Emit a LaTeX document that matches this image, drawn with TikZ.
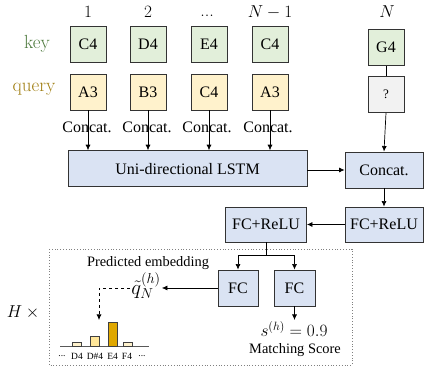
\documentclass[tikz,border=0pt]{standalone}
\usepackage[no-math]{fontspec}
\setmainfont{Liberation Serif}
\usetikzlibrary{arrows.meta}
\definecolor{keyfill}{HTML}{E2EFDA}
\definecolor{qfill}{HTML}{FFF2CC}
\definecolor{unkfill}{HTML}{F2F2F2}
\definecolor{bluefill}{HTML}{DAE3F3}
\definecolor{keytext}{HTML}{4E7A3E}
\definecolor{qtext}{HTML}{A07E12}
\definecolor{bardark}{HTML}{E0A800}
\definecolor{barmid}{HTML}{FFE699}
\definecolor{barlight}{HTML}{FFF2CC}
\tikzset{
  box/.style={draw=black!80, line width=0.9pt, inner sep=0pt, font=\fontsize{16}{18}\selectfont},
  keybox/.style={box, fill=keyfill, minimum width=36pt, minimum height=36pt},
  qbox/.style={box, fill=qfill, minimum width=36pt, minimum height=36pt},
  bbox/.style={box, fill=bluefill, minimum height=36pt},
  toplab/.style={font=\fontsize{18}{20}\selectfont},
  sidelab/.style={font=\fontfamily{lmr}\fontsize{19}{21}\selectfont},
  cclab/.style={font=\fontsize{16}{18}\selectfont, inner sep=0pt},
  small/.style={font=\fontsize{14.4}{16}\selectfont, inner sep=0pt},
  tiny/.style={font=\fontsize{9.5}{11}\selectfont, inner sep=0pt},
  arr/.style={-{Latex[length=5.5pt,width=5pt]}, line width=0.7pt},
  ln/.style={line width=0.7pt},
}
\begin{document}
\begin{tikzpicture}[x=1pt,y=-1pt]
\useasboundingbox (0,0) rectangle (424,374);
% top labels
\node[toplab] (t1) at (88,12) {$1$};
\node[toplab] (t2) at (148,12) {$2$};
\node[toplab, font=\fontfamily{lmr}\fontsize{18}{20}\selectfont, anchor=base] (t3) at (207,17) {...};
\node[toplab] (t4) at (270,12) {$N-1$};
\node[toplab] (t5) at (387,12) {$N$};
\node[sidelab, text=keytext] (keyl) at (37,44) {key};
\node[sidelab, text=qtext] (ql) at (34,89) {query};
% key boxes
\node[keybox] (k1) at (88,44.5) {C4};
\node[keybox] (k2) at (148,44.5) {D4};
\node[keybox] (k3) at (209,44.5) {E4};
\node[keybox] (k4) at (270,44.5) {C4};
\node[keybox] (k5) at (386,47.5) {G4};
% query boxes
\node[qbox] (q1) at (88,92) {A3};
\node[qbox] (q2) at (148,92) {B3};
\node[qbox] (q3) at (209,92) {C4};
\node[qbox] (q4) at (270,92) {A3};
\node[box, fill=unkfill, minimum width=36pt, minimum height=36pt, font=\fontsize{13}{15}\selectfont] (q5) at (386,94.5) {?};
% LSTM and concat
\node[bbox, minimum width=239pt] (lstm) at (187.5,168.7) {Uni-directional LSTM};
\node[bbox, minimum width=78pt] (cc) at (384,170) {Concat.};
\node[bbox, minimum width=78pt, minimum height=35pt] (fr2) at (384,224.5) {FC+ReLU};
\node[bbox, minimum width=81pt, minimum height=35pt] (fr1) at (266,224.5) {FC+ReLU};
% connectors top
\foreach \i in {1,2,3,4} {
  \draw[arr] (q\i.south) -- (q\i.south |- lstm.north);
}
\node[cclab] (c1) at (87,127) {Concat.};
\node[cclab] (c2) at (147,127) {Concat.};
\node[cclab] (c3) at (207,127) {Concat.};
\node[cclab] (c4) at (268,127) {Concat.};
\draw[ln] (k5.south) -- (q5.north);
\draw[arr] (q5.south) -- (cc.north);
\draw[arr] (lstm.east |- cc.west) -- (cc.west);
\draw[arr] (cc.south) -- (fr2.north);
\draw[arr] (fr2.west) -- (fr1.east);
% dotted box
\draw[dotted, gray, line width=0.8pt] (49,249) rectangle (352,365);
\node[font=\fontsize{18}{20}\selectfont] (hx) at (25,312) {$H\times{}$};
% FC heads
\node[bbox, minimum width=40pt] (fc1) at (238,288) {FC};
\node[bbox, minimum width=41pt] (fc2) at (294.5,288) {FC};
\coordinate (j) at (266,255);
\draw[ln] (fr1.south) -- (j);
\draw[arr] (j) -| (fc1.north);
\draw[arr] (j) -| (fc2.north);
% predicted embedding
\node[small] (pe) at (148,263) {Predicted embedding};
\node[font=\fontsize{20}{22}\selectfont, inner sep=1pt] (qt) at (146,286) {$\tilde{q}_N^{(h)}$};
\draw[arr] (fc1.west) -- (fc1.west -| qt.east);
\coordinate (da) at (99,320);
\draw[arr, dashed] (qt.west |- fc1.west) -| (da);
% bars
\draw[gray!70!black, line width=1.6pt] (60,346.7) -- (149,346.7);
\draw[black!75, line width=0.6pt, fill=barlight] (72.3,346) rectangle (81,342);
\draw[black!75, line width=0.6pt, fill=barmid] (90.7,346) rectangle (99.3,336.7);
\draw[black!75, line width=0.6pt, fill=bardark] (108.3,346) rectangle (117.3,322.3);
\draw[black!75, line width=0.6pt, fill=barlight] (123.3,346) rectangle (132.3,342.3);
\node[tiny] (b0) at (62,356) {...};
\node[tiny] (b1) at (77,356) {D4};
\node[tiny] (b2) at (95,356) {D\#4};
\node[tiny] (b3) at (112.7,356) {E4};
\node[tiny] (b4) at (127,356) {F4};
\node[tiny] (b5) at (142,356) {...};
% matching score
\node[font=\fontsize{17}{19}\selectfont, inner sep=0pt] (s) at (294,329) {$s^{(h)}=0.9$};
\draw[arr] (fc2.south) -- (294.5,320);
\node[small] (ms) at (295,350) {Matching Score};
\end{tikzpicture}
\end{document}
